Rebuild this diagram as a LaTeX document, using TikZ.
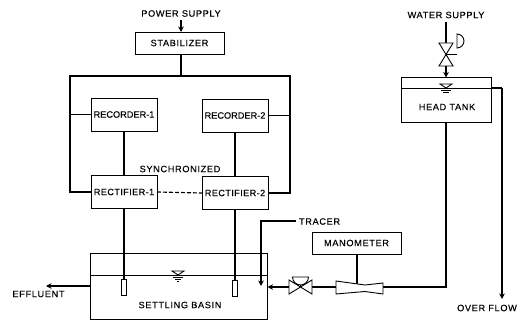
\documentclass[tikz,border=0pt]{standalone}
\usepackage{fontspec}
\setmainfont[LetterSpace=7,FakeBold=0.15]{Liberation Sans}
\usetikzlibrary{arrows.meta,calc}
\tikzset{
  box/.style={draw=black,line width=0.9pt,fill=white,inner sep=0pt,outer sep=0pt,font=\fontsize{9.2}{10}\selectfont},
  lab/.style={inner sep=0pt,outer sep=0pt,font=\fontsize{9.2}{10}\selectfont,text=black},
  wire/.style={draw=black,line width=1.15pt},
  thin wire/.style={draw=black,line width=0.9pt},
  arr/.style={wire,-{Stealth[length=5.5pt,width=5.5pt]}},
  elec/.style={draw=black,line width=0.9pt,fill=white,inner sep=0pt,outer sep=0pt,minimum width=5.5pt,minimum height=16pt},
  sym/.style={draw=black,line width=0.9pt,fill=white,line join=miter},
}
\begin{document}
\begin{tikzpicture}[x=1pt,y=-1pt]
\useasboundingbox[fill=white] (0,0) rectangle (524,320);
% texts
\node[lab] (ps) at (181,13.5) {POWER SUPPLY};
\node[lab] (ws) at (446,15) {WATER SUPPLY};
\node[lab] (sync) at (180,169) {SYNCHRONIZED};
\node[lab,anchor=west] (tr) at (299,221.5) {TRACER};
\node[lab] (eff) at (38.5,294) {EFFLUENT};
\node[lab] (of) at (487,308) {OVER FLOW};
% boxes
\node[box,minimum width=89pt,minimum height=22pt] (stab) at (179.5,43) {STABILIZER};
\node[box,minimum width=66pt,minimum height=33pt] (rec1) at (124,114.5) {\addfontfeature{LetterSpace=0}RECORDER-1};
\node[box,minimum width=66pt,minimum height=33pt] (rec2) at (235,115.5) {\addfontfeature{LetterSpace=0}RECORDER-2};
\node[box,minimum width=66pt,minimum height=33pt] (rct1) at (124,192) {\addfontfeature{LetterSpace=4}RECTIFIER-1};
\node[box,minimum width=66pt,minimum height=33pt] (rct2) at (235,193) {\addfontfeature{LetterSpace=4}RECTIFIER-2};
\node[box,minimum width=177pt,minimum height=66pt] (basin) at (179,286) {};
\node[box,minimum width=90pt,minimum height=45pt] (head) at (446,100) {};
\node[box,minimum width=89pt,minimum height=22pt] (mano) at (356.5,243) {MANOMETER};
\node[lab] (bl) at (180,305) {SETTLING BASIN};
\node[lab] (hl) at (447,107) {HEAD TANK};
\node[elec] (e1) at (124,287) {};
\node[elec] (e2) at (235,288) {};
% coordinates
\coordinate (tl) at (70,76);
\coordinate (tr2) at (290,76);
\coordinate (tm) at (181,76);
\coordinate (psb) at (181,20);
\coordinate (jl) at (70,114.5);
\coordinate (jr) at (290,115.5);
\coordinate (wsb) at (446,22);
\coordinate (effend) at (46,286);
\coordinate (effst) at (90,286);
\coordinate (trst) at (296,221);
\coordinate (trc) at (261,221);
\coordinate (tre) at (261,286);
\coordinate (wlL) at (401,88);
\coordinate (wlR) at (502,88);
\coordinate (ofe) at (502,299);
\coordinate (bl1) at (446,122);
\coordinate (bl2) at (446,287);
\coordinate (vr) at (383,287);
\coordinate (vl) at (336,287);
\coordinate (fvr) at (312,287);
\coordinate (fvl) at (289,287);
\coordinate (bin) at (267.5,287);
\coordinate (mv) at (357,284.5);
\coordinate (wvt) at (446,43);
\coordinate (wvb) at (446,66);
% wiring
\draw[arr] (psb) -- (stab.north -| psb);
\draw[wire] (stab.south -| tm) -- (tm);
\draw[wire] (rct1.west) -| (tl) -- (tr2) |- (rct2.east);
\draw[wire] (jl) -- (rec1.west);
\draw[wire] (rec2.east) -- (jr);
\draw[wire] (rec1.south) -- (rct1.north);
\draw[wire] (rec2.south) -- (rct2.north);
\draw[wire,dash pattern=on 4pt off 2pt] (rct1.east) -- (rct2.west);
\draw[wire] (rct1.south) -- (e1.north);
\draw[wire] (rct2.south) -- (e2.north);
% water level lines
\draw[thin wire] (basin.west |- 0,275) -- (basin.east |- 0,275);
\draw[arr] (effst) -- (effend);
\draw[arr] (trst) -- (trc) -- (tre);
\draw[thin wire] (wlL) -- (head.east |- wlL);
\draw[wire] (head.east |- wlL) -- (wlR);
\draw[arr] (wlR) -- (ofe);
\draw[wire] (bl1) -- (bl2) -- (vr);
\draw[wire] (vl) -- (fvr);
\draw[arr] (fvl) -- (bin);
\draw[wire] (mano.south -| mv) -- (mv);
\draw[wire] (wsb) -- (wvt);
\draw[arr] (wvb) -- (head.north);
% venturi
\draw[sym] (vl |- 0,281) -- (365,285) -- (383,283) -- (383,294) -- (365,291.5) -- (336,294) -- cycle;
% flow valve
\draw[sym] (fvl) ++(0,-7) -- ++(23,14) -- ++(0,-14) -- ++(-23,14) -- cycle;
\draw[thin wire] (300.5,287) -- (300.5,277);
\draw[sym] (292.5,277) arc[start angle=180,end angle=0,radius=8] -- cycle;
% water valve
\draw[sym] (439,43) -- (453,66) -- (439,66) -- (453,43) -- cycle;
\draw[thin wire] (446,54.5) -- (457,54.5);
\draw[sym] (457,48) arc[start angle=90,end angle=-90,radius=7] -- cycle;
% level marks
\draw[thin wire] (172,271) -- (184,271) -- (178,275) -- cycle;
\draw[thin wire] (173,277) -- (183,277) (175,279) -- (181,279) (177,281) -- (179,281);
\draw[thin wire] (440,84) -- (452,84) -- (446,88) -- cycle;
\draw[thin wire] (441,90) -- (451,90) (443,92) -- (449,92);
\end{tikzpicture}
\end{document}
